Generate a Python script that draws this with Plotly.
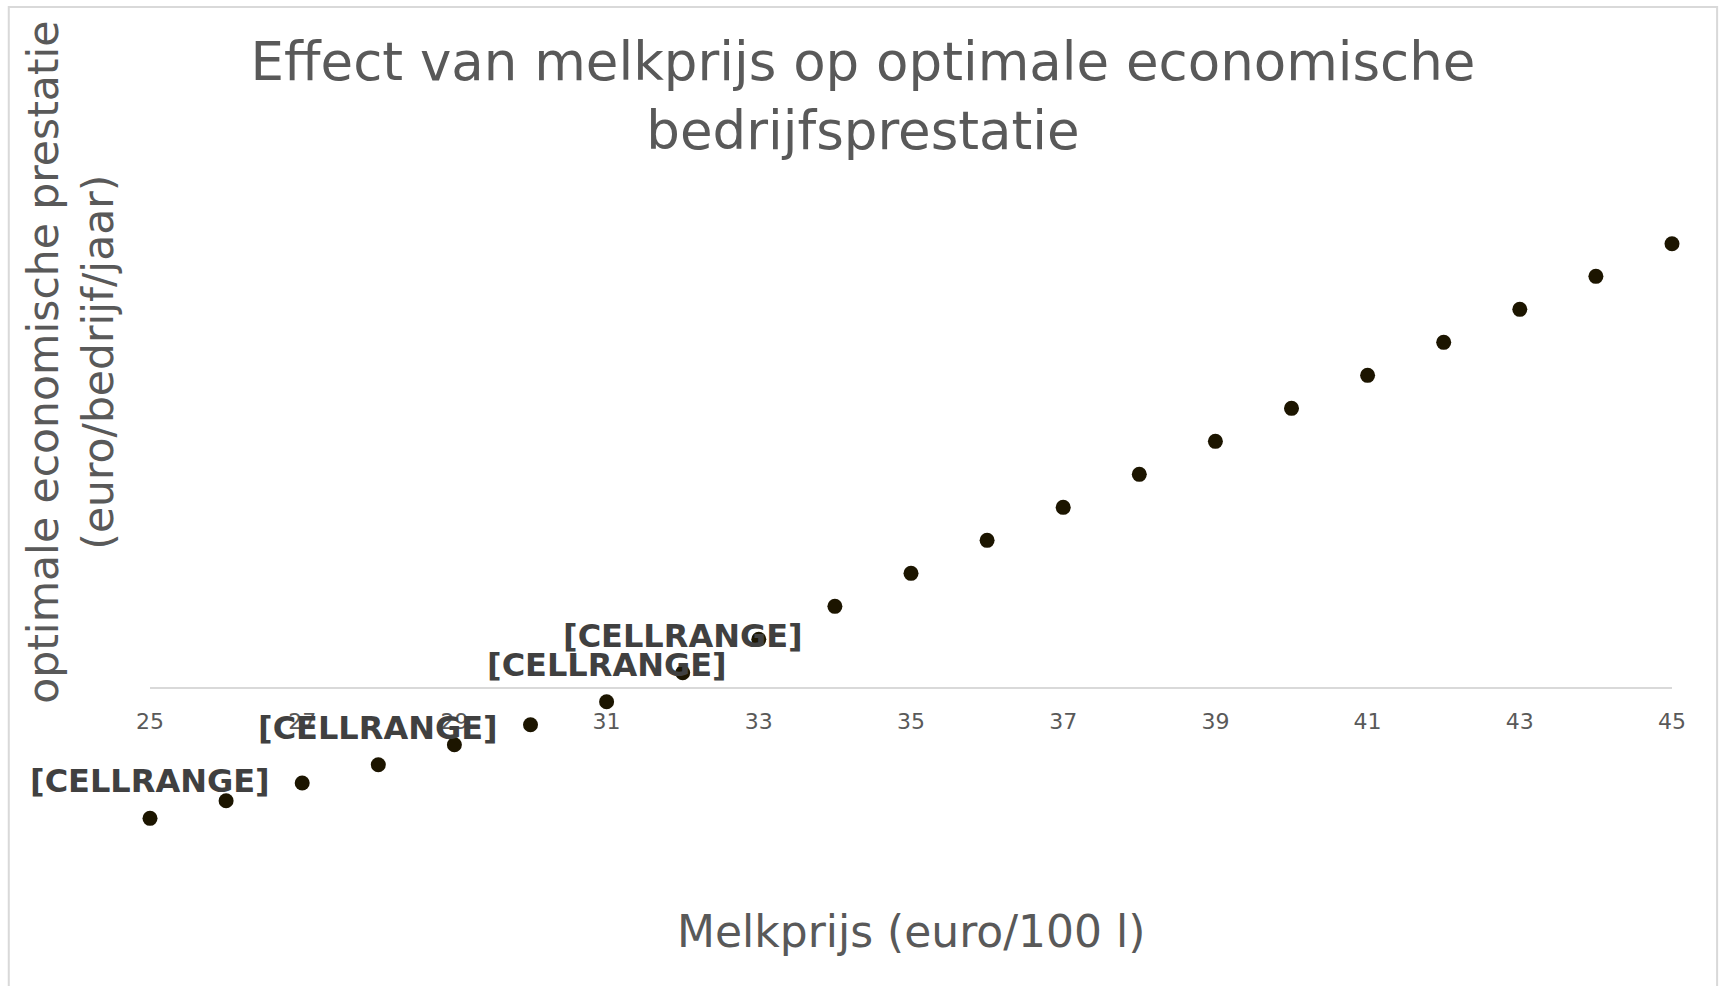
import plotly.graph_objects as go

melkprijs = [25, 26, 27, 28, 29, 30, 31, 32, 33, 34, 35, 36, 37, 38, 39, 40, 41, 42, 43, 44, 45]
prestatie = [-39200, -33900, -28600, -23100, -17100, -11100, -4200, 4500, 14500, 24400, 34300,
             44200, 54100, 64000, 73900, 83800, 93700, 103600, 113500, 123400, 133200]
label_prijzen = [25, 28, 31, 32]
label_tekst = "[CELLRANGE]"
x_ticks = [25, 27, 29, 31, 33, 35, 37, 39, 41, 43, 45]

W, H = 1719, 986
L, R = 150.2, 47.1
T, B = 200, 860
zero_px = 687.7
unit = 300.0  # euro per pixel
y_top = (zero_px - T) * unit
y_bot = (zero_px - B) * unit
ph = B - T
pw = W - L - R

def px_x(p):
    return (p - L) / pw

def px_y(p):
    return (B - p) / ph

FONT = "DejaVu Sans"

fig = go.Figure()
fig.add_trace(go.Scatter(
    x=melkprijs, y=prestatie, mode="markers",
    marker=dict(size=15, color="#1c1500"),
    cliponaxis=False, showlegend=False, hoverinfo="x+y",
))

annotations = []
for p in label_prijzen:
    v = prestatie[melkprijs.index(p)]
    annotations.append(dict(
        x=p, y=v, xref="x", yref="y", text="<b>%s</b>" % label_tekst,
        showarrow=False, yshift=37, font=dict(family=FONT, size=32, color="#404040"),
        xanchor="center", yanchor="middle",
    ))

annotations.append(dict(
    x=px_x(911), y=px_y(931), xref="paper", yref="paper",
    text="Melkprijs (euro/100 l)", showarrow=False,
    font=dict(family=FONT, size=44, color="#595959"), xanchor="center", yanchor="middle",
))
annotations.append(dict(
    x=px_x(71), y=px_y(362), xref="paper", yref="paper",
    text="optimale economische prestatie<br>(euro/bedrijf/jaar)", showarrow=False,
    textangle=-90, font=dict(family=FONT, size=42.5, color="#595959"),
    xanchor="center", yanchor="middle",
))

fig.update_layout(
    width=W, height=H,
    margin=dict(l=L, r=R, t=T, b=H - B, pad=0),
    paper_bgcolor="white", plot_bgcolor="white",
    title=dict(text="Effect van melkprijs op optimale economische<br>bedrijfsprestatie",
               x=863 / W, xref="container", xanchor="center",
               y=1 - 80 / H, yref="container", yanchor="middle",
               font=dict(family=FONT, size=53, color="#595959")),
    xaxis=dict(range=[25, 45], tickvals=x_ticks, ticktext=[str(t) for t in x_ticks],
               showgrid=False, zeroline=False, showline=True, linecolor="#d9d9d9", linewidth=2,
               anchor="free", position=px_y(zero_px), ticks="", ticklabelstandoff=14,
               tickfont=dict(family=FONT, size=22, color="#595959")),
    yaxis=dict(range=[y_bot, y_top], showgrid=False, zeroline=False, showline=False,
               showticklabels=False, ticks=""),
    annotations=annotations,
    shapes=[dict(type="rect", xref="paper", yref="paper",
                 x0=px_x(9), x1=px_x(1717), y0=px_y(992), y1=px_y(7),
                 line=dict(color="#d9d9d9", width=2), layer="below")],
)

fig.write_html("out.html", config={"displayModeBar": False},
               post_script="document.body.style.margin='0';document.body.style.overflow='hidden';")
